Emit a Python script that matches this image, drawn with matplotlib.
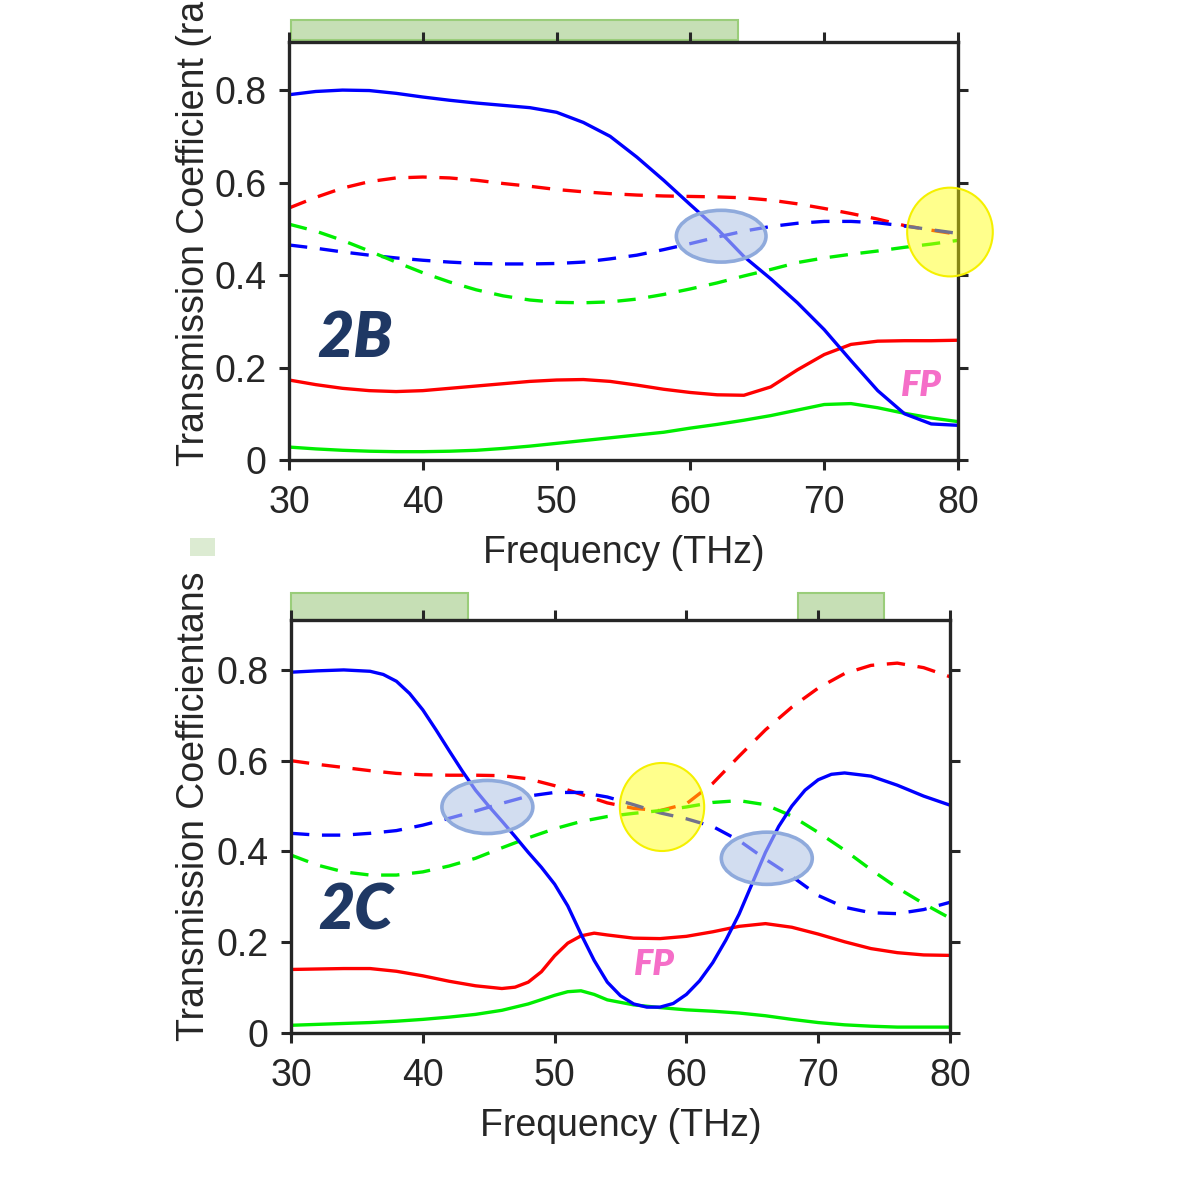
import numpy as np
import matplotlib
matplotlib.use("Agg")
import matplotlib.pyplot as plt
from matplotlib.patches import Ellipse, Rectangle

plt.rcParams['font.family'] = ['Liberation Sans', 'DejaVu Sans']

# ---------------- panel 2B ----------------
fB = [30, 32, 34, 36, 38, 40, 42, 44, 46, 48, 50, 52, 54, 56, 58, 60,
      62, 64, 66, 68, 70, 72, 74, 76, 78, 80]
B_blue_solid = [0.790, 0.797, 0.800, 0.799, 0.793, 0.785, 0.778, 0.772, 0.767, 0.762,
                0.752, 0.730, 0.700, 0.655, 0.605, 0.552, 0.500, 0.440, 0.392, 0.340,
                0.282, 0.215, 0.150, 0.100, 0.078, 0.075]
B_red_dash = [0.545, 0.568, 0.588, 0.602, 0.610, 0.612, 0.610, 0.605, 0.598, 0.592,
              0.585, 0.580, 0.576, 0.573, 0.571, 0.570, 0.569, 0.567, 0.562, 0.554,
              0.544, 0.533, 0.521, 0.507, 0.497, 0.488]
B_blue_dash = [0.465, 0.458, 0.450, 0.443, 0.437, 0.432, 0.428, 0.425, 0.424, 0.424,
               0.425, 0.428, 0.435, 0.443, 0.455, 0.468, 0.482, 0.495, 0.505, 0.512,
               0.516, 0.516, 0.513, 0.506, 0.498, 0.490]
B_green_dash = [0.510, 0.495, 0.475, 0.452, 0.428, 0.405, 0.385, 0.368, 0.355, 0.346,
                0.341, 0.340, 0.342, 0.348, 0.358, 0.370, 0.383, 0.398, 0.412, 0.427,
                0.437, 0.445, 0.452, 0.460, 0.467, 0.475]
B_red_solid = [0.173, 0.163, 0.155, 0.150, 0.148, 0.150, 0.155, 0.160, 0.165, 0.170,
               0.173, 0.174, 0.170, 0.162, 0.153, 0.146, 0.141, 0.140, 0.158, 0.195,
               0.228, 0.250, 0.257, 0.258, 0.258, 0.259]
B_green_solid = [0.028, 0.024, 0.021, 0.019, 0.018, 0.018, 0.019, 0.021, 0.025, 0.030,
                 0.036, 0.042, 0.048, 0.054, 0.060, 0.069, 0.077, 0.086, 0.096, 0.108,
                 0.120, 0.122, 0.113, 0.101, 0.091, 0.083]
B_bands = [(30.15, 63.56)]

# ---------------- panel 2C ----------------
fC_blue = [30, 32, 34, 36, 37, 38, 39, 40, 41, 42, 43, 44, 45, 46, 47, 48, 49, 50,
           51, 52, 53, 54, 55, 56, 57, 58, 59, 60, 61, 62, 63, 64, 65, 66, 67, 68,
           69, 70, 71, 72, 74, 76, 78, 80]
C_blue_solid = [0.795, 0.798, 0.800, 0.797, 0.790, 0.775, 0.748, 0.712, 0.668, 0.622,
                0.577, 0.535, 0.500, 0.467, 0.433, 0.398, 0.365, 0.328, 0.280, 0.218,
                0.160, 0.112, 0.082, 0.064, 0.057, 0.057, 0.065, 0.085, 0.115, 0.155,
                0.205, 0.262, 0.330, 0.398, 0.455, 0.500, 0.535, 0.558, 0.570, 0.573,
                0.566, 0.546, 0.522, 0.502]
fC = [30, 32, 34, 36, 38, 40, 42, 44, 46, 48, 50, 52, 54, 56, 58, 60,
      62, 64, 66, 68, 70, 72, 74, 76, 78, 80]
C_red_dash = [0.600, 0.592, 0.585, 0.578, 0.572, 0.569, 0.568, 0.568, 0.567, 0.560,
              0.545, 0.526, 0.507, 0.495, 0.490, 0.505, 0.550, 0.610, 0.668, 0.718,
              0.760, 0.792, 0.810, 0.815, 0.805, 0.785]
C_blue_dash = [0.440, 0.436, 0.436, 0.440, 0.446, 0.458, 0.473, 0.489, 0.506, 0.522,
               0.530, 0.530, 0.520, 0.503, 0.485, 0.472, 0.455, 0.424, 0.383, 0.345,
               0.303, 0.277, 0.265, 0.263, 0.272, 0.288]
C_green_dash = [0.392, 0.370, 0.355, 0.348, 0.348, 0.355, 0.368, 0.385, 0.408, 0.430,
                0.450, 0.466, 0.477, 0.484, 0.490, 0.498, 0.508, 0.512, 0.503, 0.478,
                0.442, 0.403, 0.360, 0.320, 0.285, 0.253]
fC_red = [30, 32, 34, 36, 38, 40, 42, 44, 46, 47, 48, 49, 50, 51, 52, 53, 54, 56,
          58, 60, 62, 64, 66, 68, 70, 72, 74, 76, 78, 80]
C_red_solid = [0.140, 0.141, 0.142, 0.142, 0.136, 0.126, 0.114, 0.104, 0.098, 0.101,
               0.112, 0.135, 0.170, 0.198, 0.214, 0.220, 0.216, 0.209, 0.208, 0.213,
               0.223, 0.235, 0.241, 0.233, 0.218, 0.201, 0.186, 0.177, 0.172, 0.171]
fC_green = [30, 32, 34, 36, 38, 40, 42, 44, 46, 48, 50, 51, 52, 53, 54, 56, 58, 60,
            62, 64, 66, 68, 70, 72, 74, 76, 78, 80]
C_green_solid = [0.017, 0.019, 0.021, 0.023, 0.026, 0.030, 0.035, 0.041, 0.050, 0.064,
                 0.083, 0.091, 0.093, 0.085, 0.073, 0.062, 0.056, 0.051, 0.048, 0.044,
                 0.038, 0.030, 0.023, 0.018, 0.015, 0.013, 0.013, 0.013]
C_bands = [(30.0, 43.4), (68.5, 75.0)]

xticks = [30, 40, 50, 60, 70, 80]
yticks = [0, 0.2, 0.4, 0.6, 0.8]
ytick_labels = ["0", "0.2", "0.4", "0.6", "0.8"]

BLUE = "#0000ff"
RED = "#ff0000"
GREEN = "#00ee00"
AX_COL = "#262626"
LW = 2.4
DASH = (5.5, 3.8)


def style_axes(ax, ytop):
    ax.set_xlim(30, 80)
    ax.set_ylim(0, ytop)
    ax.set_xticks(xticks)
    ax.set_yticks(yticks)
    ax.set_yticklabels(ytick_labels)
    for s in ax.spines.values():
        s.set_linewidth(2.4)
        s.set_color(AX_COL)
    ax.tick_params(direction='out', top=True, right=True, length=7, width=2.2,
                   color=AX_COL, labelcolor=AX_COL, labelsize=27)
    ax.tick_params(axis='x', pad=11)
    ax.tick_params(axis='y', pad=9)
    ax.set_xlabel("Frequency (THz)", fontsize=27, color=AX_COL, labelpad=10)


def blue_ellipse(ax, x, y, w, h):
    ax.add_patch(Ellipse((x, y), w, h, facecolor="#b4c7e7", alpha=0.6,
                         edgecolor="none", zorder=4, clip_on=False))
    ax.add_patch(Ellipse((x, y), w, h, facecolor="none", edgecolor="#8faadc",
                         lw=2.6, zorder=4, clip_on=False))


def yellow_circle(ax, x, y, w, h):
    ax.add_patch(Ellipse((x, y), w, h, facecolor="#ffff00", alpha=0.45,
                         edgecolor="none", zorder=4, clip_on=False))
    ax.add_patch(Ellipse((x, y), w, h, facecolor="none", edgecolor="#f5f000",
                         lw=1.5, zorder=4, clip_on=False))


def green_band(ax, x0, x1, y0, y1):
    ax.add_patch(Rectangle((x0, y0), x1 - x0, y1 - y0, facecolor="#c6dfb5",
                           edgecolor="#9acd7a", lw=1.5, zorder=1, clip_on=False))


fig = plt.figure(figsize=(12, 12), dpi=100)

# top panel
ax1 = fig.add_axes([289 / 1200, 1 - 460 / 1200, 669 / 1200, 418 / 1200])
ax1.plot(fB, B_red_dash, color=RED, lw=LW, dashes=DASH)
ax1.plot(fB, B_blue_dash, color=BLUE, lw=LW, dashes=DASH)
ax1.plot(fB, B_green_dash, color=GREEN, lw=LW, dashes=DASH)
ax1.plot(fB, B_red_solid, color=RED, lw=LW)
ax1.plot(fB, B_green_solid, color=GREEN, lw=LW)
ax1.plot(fB, B_blue_solid, color=BLUE, lw=LW)
style_axes(ax1, 0.904)
for x0, x1 in B_bands:
    green_band(ax1, x0, x1, 0.908, 0.951)
blue_ellipse(ax1, 62.3, 0.484, 6.7, 0.112)
yellow_circle(ax1, 79.4, 0.493, 6.4, 0.192)
ax1.text(34.9, 0.262, "2B", fontsize=45, color="#1f3864", family="Lato",
         weight="heavy", style="italic", ha="center", va="center")
ax1.text(77.3, 0.162, "FP", fontsize=26, color="#f56ec8", family="Lato",
         weight="heavy", style="italic", ha="center", va="center")

# bottom panel
ax2 = fig.add_axes([291 / 1200, 1 - 1033 / 1200, 659 / 1200, 413 / 1200])
ax2.plot(fC, C_red_dash, color=RED, lw=LW, dashes=DASH)
ax2.plot(fC, C_blue_dash, color=BLUE, lw=LW, dashes=DASH)
ax2.plot(fC, C_green_dash, color=GREEN, lw=LW, dashes=DASH)
ax2.plot(fC_red, C_red_solid, color=RED, lw=LW)
ax2.plot(fC_green, C_green_solid, color=GREEN, lw=LW)
ax2.plot(fC_blue, C_blue_solid, color=BLUE, lw=LW)
style_axes(ax2, 0.91)
for x0, x1 in C_bands:
    green_band(ax2, x0, x1, 0.91, 0.969)
blue_ellipse(ax2, 44.9, 0.498, 6.9, 0.117)
blue_ellipse(ax2, 66.1, 0.385, 6.9, 0.115)
yellow_circle(ax2, 58.15, 0.498, 6.4, 0.194)
ax2.text(34.9, 0.269, "2C", fontsize=45, color="#1f3864", family="Lato",
         weight="heavy", style="italic", ha="center", va="center")
ax2.text(57.6, 0.152, "FP", fontsize=26, color="#f56ec8", family="Lato",
         weight="heavy", style="italic", ha="center", va="center")

# y labels (cut off at the top like the source)
fig.text(194 / 1200, 1 - 466 / 1200, "Transmission Coefficient (ra", rotation=90,
         ha="center", va="bottom", fontsize=27, color=AX_COL)
fig.text(194 / 1200, 1 - 1041 / 1200, "Transmission Coefficientans", rotation=90,
         ha="center", va="bottom", fontsize=27, color=AX_COL)
fig.patches.append(Rectangle((160 / 1200, 1 - 545 / 1200), 75 / 1200, 65 / 1200,
                             transform=fig.transFigure, facecolor="white",
                             edgecolor="none", zorder=5))
fig.patches.append(Rectangle((190 / 1200, 1 - 556 / 1200), 25 / 1200, 18 / 1200,
                             transform=fig.transFigure, facecolor="#c6dfb5",
                             alpha=0.6, edgecolor="none", zorder=6))

fig.savefig("out.png", dpi=100, facecolor="white")
